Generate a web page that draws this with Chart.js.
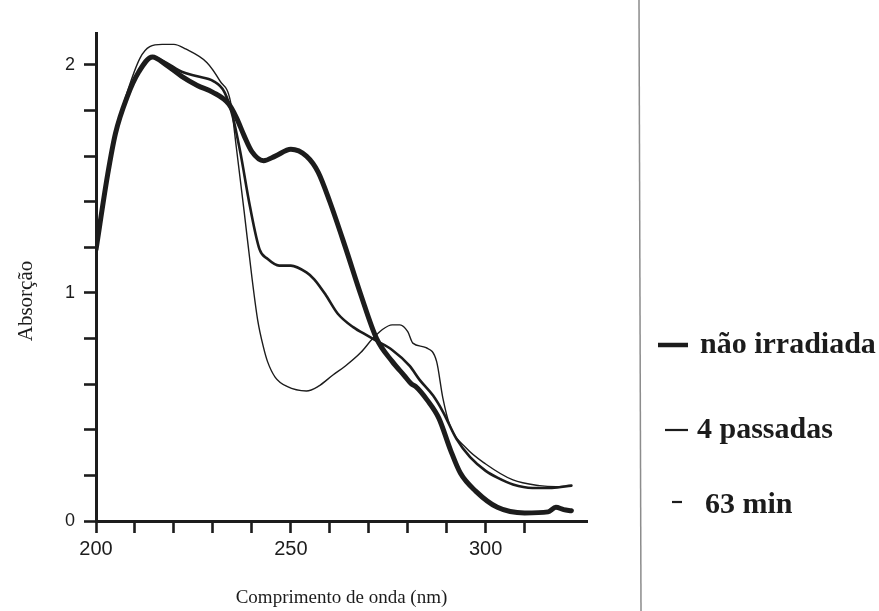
<!DOCTYPE html>
<html>
<head>
<meta charset="utf-8">
<script src="https://cdn.jsdelivr.net/npm/chart.js@4.4.1/dist/chart.umd.min.js"></script>
<style>
  html, body { margin: 0; padding: 0; background: #fff; }
  #wrap { width: 879px; height: 611px; position: relative; }
</style>
</head>
<body>
<div id="wrap"><canvas id="spectrum" width="879" height="611"></canvas></div>
<script>
// series names, as in the legend
var seriesNames = ["não irradiada", "4 passadas", "63 min"];

// não irradiada (thick line)
var nmNaoIrr = [200, 203, 205, 208, 211, 214.5, 218, 222, 226, 230, 234, 236, 238, 240, 243, 246, 250, 254, 257, 260, 264, 268, 272, 276, 279, 281, 282, 285, 288, 291, 293.5, 297.5, 303, 310, 316, 318, 320, 322];
var absNaoIrr = [1.19, 1.52, 1.70, 1.86, 1.97, 2.035, 2.0, 1.95, 1.91, 1.88, 1.83, 1.77, 1.69, 1.62, 1.58, 1.60, 1.63, 1.60, 1.53, 1.40, 1.20, 0.99, 0.80, 0.70, 0.64, 0.60, 0.59, 0.53, 0.45, 0.31, 0.21, 0.13, 0.06, 0.035, 0.04, 0.06, 0.05, 0.045];

// 4 passadas (medium line)
var nm4Pass = [200, 203, 205, 208, 211, 214.5, 218, 222, 226, 230, 233, 235, 237, 239.5, 242, 244, 247, 250, 254, 256, 259, 262, 266, 270, 272, 276, 280.5, 283, 286.5, 289, 292.5, 296, 300, 303, 307, 312, 317, 322];
var abs4Pass = [1.19, 1.52, 1.70, 1.86, 1.97, 2.035, 2.01, 1.97, 1.95, 1.93, 1.88, 1.78, 1.62, 1.38, 1.19, 1.15, 1.12, 1.12, 1.09, 1.06, 0.99, 0.91, 0.85, 0.81, 0.79, 0.75, 0.68, 0.62, 0.55, 0.48, 0.36, 0.28, 0.22, 0.19, 0.16, 0.145, 0.145, 0.155];

// 63 min (thin line)
var nm63Min = [200, 203, 205, 208, 211.3, 213.8, 217, 220, 223, 228.5, 231.8, 234.5, 236, 238, 240, 241.5, 243, 244, 246, 249, 254, 257, 260.8, 264, 268, 271, 273.5, 276, 278, 280, 281.3, 284.7, 287.4, 289, 290.8, 295, 300, 307, 313.8, 318, 321.5];
var abs63Min = [1.19, 1.52, 1.70, 1.88, 2.03, 2.08, 2.09, 2.09, 2.07, 2.01, 1.93, 1.84, 1.64, 1.36, 1.07, 0.88, 0.76, 0.70, 0.63, 0.59, 0.57, 0.59, 0.64, 0.68, 0.74, 0.80, 0.84, 0.86, 0.86, 0.83, 0.78, 0.76, 0.70, 0.54, 0.42, 0.32, 0.25, 0.18, 0.155, 0.15, 0.155];

// axis ticks
var xTickLabels = [200, 250, 300];
var yTickLabels = [0, 1, 2];

var ink = "#1c1c1c";
var lineWidths = [5, 2.6, 1.4];

function toPoints(xs, ys) {
    var pts = [];
    for (var i = 0; i < xs.length; i++) {
        pts.push({ x: xs[i], y: ys[i] });
    }
    return pts;
}

var seriesData = [
    toPoints(nmNaoIrr, absNaoIrr),
    toPoints(nm4Pass, abs4Pass),
    toPoints(nm63Min, abs63Min)
];

var datasets = [];
for (var i = 0; i < seriesNames.length; i++) {
    datasets.push({
        label: seriesNames[i],
        data: seriesData[i],
        showLine: true,
        borderColor: ink,
        borderWidth: lineWidths[i],
        pointRadius: 0,
        cubicInterpolationMode: "monotone",
        borderCapStyle: "round",
        borderJoinStyle: "round"
    });
}

// keep only ticks that fall on the step, drop the extra max tick
function keepStep(step) {
    return function (scale) {
        scale.ticks = scale.ticks.filter(function (t) {
            var r = t.value / step;
            return Math.abs(r - Math.round(r)) < 1e-6;
        });
    };
}

// y title, legend at the right, plus the page edge from the scan
var sideLegend = {
    id: "sideLegend",
    afterDraw: function (chart) {
        var ctx = chart.ctx;
        var area = chart.chartArea;
        var right = area.right;
        var rows = [
            { x0: right + 71, x1: right + 101, ly: 345, tx: right + 113, ty: 353 },
            { x0: right + 78, x1: right + 101, ly: 430, tx: right + 110, ty: 438 },
            { x0: right + 85, x1: right + 95, ly: 502, tx: right + 118, ty: 513 }
        ];
        ctx.save();

        // y axis title, a bit below the middle like the original
        ctx.save();
        ctx.translate(26, (area.top + area.bottom) / 2 + 24);
        ctx.rotate(-Math.PI / 2);
        ctx.fillStyle = ink;
        ctx.font = "21px 'Liberation Serif', 'Times New Roman', serif";
        ctx.textAlign = "center";
        ctx.textBaseline = "middle";
        ctx.fillText("Absorção", 0, 0);
        ctx.restore();

        // scanned page border
        ctx.strokeStyle = "#8c8c8c";
        ctx.lineWidth = 1.5;
        ctx.beginPath();
        ctx.moveTo(right + 52, 0);
        ctx.lineTo(right + 54, chart.height);
        ctx.stroke();

        ctx.fillStyle = ink;
        ctx.strokeStyle = ink;
        ctx.font = "bold 30px 'Liberation Serif', 'DejaVu Serif', serif";
        ctx.textBaseline = "alphabetic";
        for (var i = 0; i < rows.length; i++) {
            var r = rows[i];
            ctx.lineWidth = i === 0 ? 4.5 : 2.2;
            ctx.beginPath();
            ctx.moveTo(r.x0, r.ly);
            ctx.lineTo(r.x1, r.ly);
            ctx.stroke();
            ctx.fillText(chart.data.datasets[i].label, r.tx, r.ty);
        }
        ctx.restore();
    }
};

var ctx = document.getElementById("spectrum").getContext("2d");
var chart = new Chart(ctx, {
    type: "scatter",
    data: { datasets: datasets },
    plugins: [sideLegend],
    options: {
        responsive: false,
        animation: false,
        layout: { padding: { left: 0, top: 33, right: 292, bottom: 0 } },
        plugins: {
            legend: { display: false },
            tooltip: { enabled: false }
        },
        scales: {
            x: {
                type: "linear",
                min: 200,
                max: 326,
                afterBuildTicks: keepStep(10),
                afterFit: function (scale) { scale.height = 90; },
                ticks: {
                    stepSize: 10,
                    autoSkip: false,
                    maxRotation: 0,
                    padding: 4,
                    color: ink,
                    font: { family: "'Liberation Sans', Arial, sans-serif", size: 20 },
                    callback: function (v) { return xTickLabels.indexOf(v) >= 0 ? String(v) : ""; }
                },
                grid: { drawOnChartArea: false, drawTicks: true, tickLength: 12, tickWidth: 2.6, tickColor: ink },
                border: { display: true, color: ink, width: 3 },
                title: {
                    display: true,
                    text: "Comprimento de onda (nm)",
                    color: ink,
                    font: { family: "'Liberation Serif', 'Times New Roman', serif", size: 19 },
                    padding: { top: 0, bottom: 2 }
                }
            },
            y: {
                min: 0,
                max: 2.14,
                afterBuildTicks: keepStep(0.2),
                afterFit: function (scale) { scale.width = 96; },
                ticks: {
                    stepSize: 0.2,
                    autoSkip: false,
                    padding: 9,
                    color: ink,
                    font: { family: "'Liberation Sans', Arial, sans-serif", size: 18 },
                    callback: function (v) {
                        var n = Math.round(v);
                        return (Math.abs(v - n) < 1e-6 && yTickLabels.indexOf(n) >= 0) ? String(n) : "";
                    }
                },
                grid: { drawOnChartArea: false, drawTicks: true, tickLength: 12, tickWidth: 2.6, tickColor: ink },
                border: { display: true, color: ink, width: 3 },
                title: { display: false }
            }
        }
    }
});
</script>
</body>
</html>
